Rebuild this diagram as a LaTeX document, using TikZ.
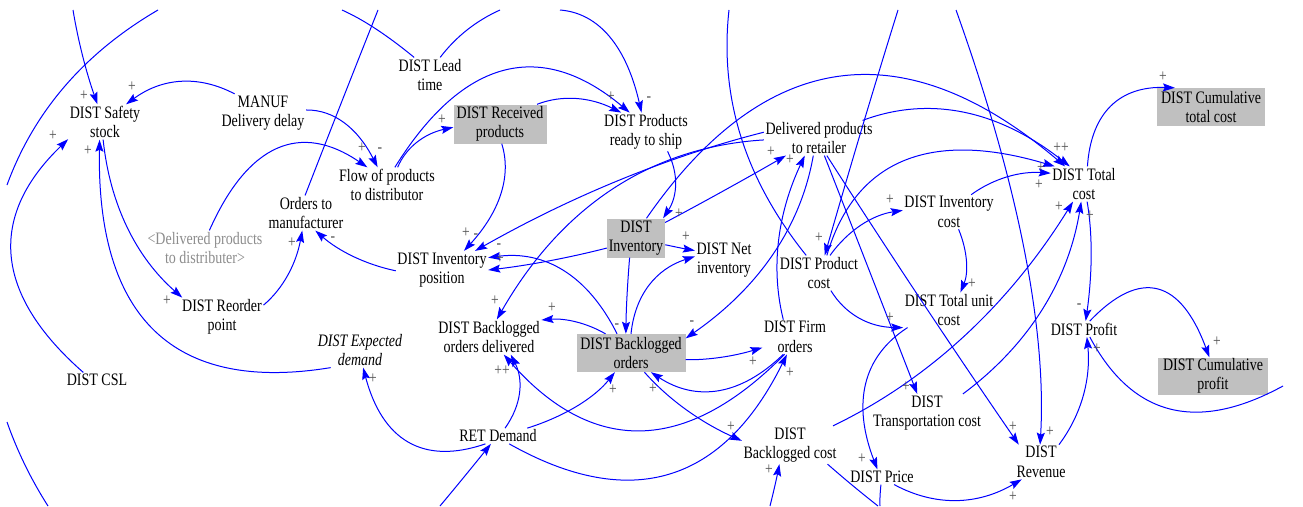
\documentclass[tikz,border=0pt]{standalone}
\usepackage{fontspec}
\setmainfont[FakeStretch=0.8]{Liberation Serif}
\usetikzlibrary{arrows.meta,calc}
\definecolor{boxgray}{RGB}{192,192,192}
\definecolor{txtgray}{RGB}{140,140,140}
\definecolor{sgngray}{RGB}{80,80,80}
\newcommand\vfont{\rmfamily\fontsize{17.5}{19.5}\selectfont}
\newcommand\sgfont{\rmfamily\fontsize{17}{17}\selectfont}
\newcommand\conn[4][lnk]{\draw[#1] (#2) .. controls ($1.3333*#4-0.3333*(#3)$) and ($1.3333*#4-0.3333*(#2)$) .. (#3);}
\newcommand\sg[3]{\node[sgn] (#1) at (#2) {#3};}
\begin{document}
\begin{tikzpicture}[x=1pt,y=-1pt,
  var/.style={align=center,inner sep=1.5pt,font=\vfont},
  box/.style={var,fill=boxgray,inner sep=0pt},
  lnk/.style={draw=blue,line width=1pt,-{Stealth[length=12pt,width=8pt,inset=2pt]}},
  plain/.style={draw=blue,line width=1pt},
  sgn/.style={font=\sgfont,text=sgngray,inner sep=0pt}]
\useasboundingbox (0,0) rectangle (1303,506);
% variables
\node[var] (ss) at (105,122) {DIST Safety\\stock};
\node[var] (md) at (263,113) {MANUF\\Delivery delay};
\node[var] (lt) at (430,75) {DIST Lead\\time};
\node[box,minimum width=93pt,minimum height=39pt] (rp) at (500,124) {DIST Received\\products};
\node[var] (pr) at (646,132) {DIST Products\\ready to ship};
\node[var] (dr) at (819,138) {Delivered products\\to retailer};
\node[var] (tc) at (1084,184) {DIST Total\\cost};
\node[box,minimum width=108pt,minimum height=38pt] (ctc) at (1211,107) {DIST Cumulative\\total cost};
\node[var] (om) at (306,213) {Orders to\\manufacturer};
\node[var] (fp) at (387,185) {Flow of products\\to distributor};
\node[var,text=txtgray] (dd) at (205,248) {<Delivered products\\to distributer>};
\node[var] (ip) at (442,270) {DIST Inventory\\position};
\node[box,minimum width=58pt,minimum height=39pt] (inv) at (636,238) {DIST\\Inventory};
\node[var] (ni) at (724,260) {DIST Net\\inventory};
\node[var] (ic) at (949,212) {DIST Inventory\\cost};
\node[var] (pc) at (819,273) {DIST Product\\cost};
\node[var] (tuc) at (949,310) {DIST Total unit\\cost};
\node[var] (ro) at (222,317) {DIST Reorder\\point};
\node[var] (bod) at (489,337) {DIST Backlogged\\orders delivered};
\node[box,minimum width=109pt,minimum height=38pt] (bo) at (631,353) {DIST Backlogged\\orders};
\node[var] (fo) at (795,337) {DIST Firm\\orders};
\node[var] (pf) at (1084,329) {DIST Profit};
\node[box,minimum width=110pt,minimum height=37pt] (cp) at (1213,376) {DIST Cumulative\\profit};
\node[var,font=\vfont\itshape] (ed) at (360,350) {DIST Expected\\demand};
\node[var] (csl) at (97,380) {DIST CSL};
\node[var] (rd) at (498,436) {RET Demand};
\node[var] (trc) at (927,413) {DIST\\Transportation cost};
\node[var] (bc) at (790,445) {DIST\\Backlogged cost};
\node[var] (pri) at (882,477) {DIST Price};
\node[var] (rev) at (1041,462) {DIST\\Revenue};
% free ends at the picture's edges
\coordinate (t1) at (73,10);
\coordinate (t2) at (342,10);
\coordinate (t3) at (7,185);
\coordinate (t4) at (158,10);
\coordinate (t5) at (7,422);
\coordinate (t6) at (48,506);
\coordinate (t7) at (378,10);
\coordinate (t8) at (500,10);
\coordinate (t9) at (560,10);
\coordinate (t10) at (729,10);
\coordinate (t11) at (898,10);
\coordinate (t12) at (956,10);
\coordinate (b1) at (440,506);
\coordinate (b2) at (770,506);
\coordinate (b3) at (878,506);
\coordinate (b4) at (880,506);
\coordinate (r1) at (1283,386);
% connectors
\conn{t1}{ss.113}{(83,57)}
\conn[plain]{lt.132}{t2}{(376,29)}
\conn[plain]{t3}{t4}{(65,86)}
\conn[plain]{t5}{t6}{(25,465)}
\conn{md.146}{ss.40}{(180,82)}
\conn{csl.151}{ss.205}{(12,255)}
\conn{ed.211}{ss.253}{(155,330)}
\conn{ss.264}{ro.154}{(128,228)}
\conn{ro.16}{om.258}{(288,274)}
\conn{ip.181}{om.298}{(353,256)}
\conn[plain]{om.93}{t7}{(342,101)}
\conn{dd.76}{fp.138}{(278,149)}
\conn{md.4}{fp.118}{(345,124)}
\conn{fp.59}{rp.184}{(418,142)}
\conn{fp.66}{pr.130}{(505,71)}
\conn{rp.28}{pr.142}{(577,99)}
\conn[plain]{lt.60}{t8}{(467,30)}
\conn{t9}{pr.103}{(610,38)}
\conn{rp.275}{ip.41}{(500,195)}
\conn{dr.174}{ip.30}{(620,180)}
\conn{dr.182}{bod.66}{(612,190)}
\conn{inv.62}{tc.137}{(840,77)}
\conn{dr.22}{tc.129}{(965,113)}
\conn{pc.66}{tc.149}{(905,161)}
\conn{ic.38}{tc.162}{(1008,177)}
\conn{tc.79}{ctc.152}{(1112,106)}
\conn{tc.280}{pf.78}{(1091,256)}
\conn{bc.24}{tc.238}{(965,335)}
\conn{trc.28}{tc.261}{(1042,309)}
\conn{inv.199}{ip.0}{(548,261)}
\conn{bo.126}{ip.15}{(563,271)}
\conn{inv.252}{bo.105}{(627,297)}
\conn{bo.143}{bod.18}{(575,322)}
\conn{bo.90}{ni.173}{(650,285)}
\conn{inv.347}{ni.162}{(681,248)}
\conn{pr.318}{inv.36}{(675,185)}
\conn{inv.28}{dr.208}{(725,190)}
\conn{fo.124}{dr.231}{(779,240)}
\conn{dr.252}{bo.15}{(772,255)}
\conn{bo.353}{fo.198}{(722,357)}
\conn{fo.236}{bo.316}{(718,390)}
\conn{fo.239}{bod.310}{(640,430)}
\conn{rd.48}{bod.321}{(519,392)}
\conn{rd.15}{bo.230}{(578,405)}
\conn{rd.325}{fo.245}{(670,473)}
\conn{rd.212}{ed.280}{(408,441)}
\conn{b1}{rd.228}{(464,477)}
\conn{bo.305}{bc.175}{(687,410)}
\conn{b2}{bc.241}{(775,485)}
\conn[plain]{bc.333}{b3}{(852,485)}
\conn[plain]{pri.262}{b4}{(880,497)}
\conn{pc.304}{tuc.201}{(860,318)}
\conn{tuc.203}{pri.121}{(866,385)}
\conn{ic.299}{tuc.57}{(966,262)}
\conn{pc.58}{ic.178}{(862,225)}
\conn[plain]{pc.126}{t10}{(741,137)}
\conn{t11}{pc.72}{(862,128)}
\conn{t12}{rev.93}{(1024,250)}
\conn{dr.287}{trc.117}{(871,275)}
\conn{dr.294}{rev.142}{(921,300)}
\conn{pri.328}{rev.222}{(957,500)}
\conn{rev.44}{pf.290}{(1083,395)}
\conn{pf.54}{cp.101}{(1158,290)}
\conn[plain]{pf.306}{r1}{(1170,409)}
% polarity signs
\sg{s1}{84,96}{+}
\sg{s2}{132,87}{+}
\sg{s3}{53,136}{+}
\sg{s4}{88,151}{+}
\sg{s5}{167,301}{+}
\sg{s6}{292,243}{+}
\sg{s7}{333,239}{-}
\sg{s8}{362,148}{+}
\sg{s9}{380,150}{-}
\sg{s10}{442,120}{+}
\sg{s11}{611,97}{+}
\sg{s12}{649,99}{-}
\sg{s13}{466,233}{+}
\sg{s14}{476,236}{-}
\sg{s15}{499,246}{-}
\sg{s16}{500,259}{+}
\sg{s17}{495,301}{+}
\sg{s18}{552,308}{+}
\sg{s19}{617,326}{-}
\sg{s20}{692,323}{-}
\sg{s21}{686,237}{+}
\sg{s22}{679,214}{+}
\sg{s23}{771,152}{+}
\sg{s24}{790,160}{+}
\sg{s25}{753,362}{+}
\sg{s26}{790,373}{+}
\sg{s27}{653,389}{+}
\sg{s28}{613,390}{+}
\sg{s29}{502,371}{++}
\sg{s30}{373,379}{+}
\sg{s31}{731,427}{+}
\sg{s32}{769,470}{+}
\sg{s33}{819,238}{+}
\sg{s34}{890,200}{+}
\sg{s35}{972,284}{+}
\sg{s36}{890,318}{+}
\sg{s37}{906,387}{+}
\sg{s38}{862,459}{+}
\sg{s39}{1013,427}{+}
\sg{s40}{1050,432}{+}
\sg{s41}{1013,497}{+}
\sg{s42}{1097,349}{+}
\sg{s43}{1079,306}{-}
\sg{s44}{1217,342}{+}
\sg{s45}{1163,77}{+}
\sg{s46}{1061,148}{++}
\sg{s47}{1041,168}{+}
\sg{s48}{1039,185}{+}
\sg{s49}{1059,207}{+}
\sg{s50}{1090,216}{+}
\end{tikzpicture}
\end{document}
